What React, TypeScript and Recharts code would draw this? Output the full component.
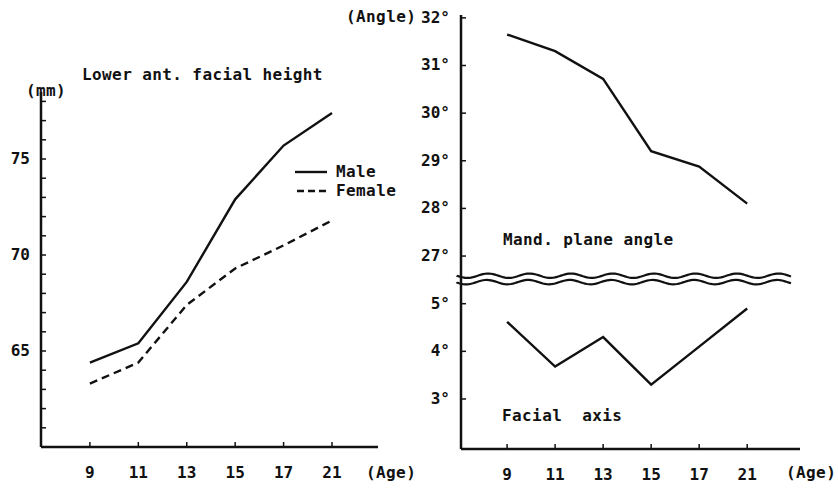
import { LineChart, Line, XAxis, YAxis, ReferenceLine } from 'recharts'

const ages = ['9', '11', '13', '15', '17', '21']
const maleHeight = [64.4, 65.4, 68.6, 72.9, 75.7, 77.4]
const femaleHeight = [63.3, 64.4, 67.4, 69.3, 70.5, 71.8]
const mandPlaneAngle = [31.65, 31.3, 30.72, 29.2, 28.88, 28.1]
const facialAxis = [4.62, 3.68, 4.3, 3.3, 4.1, 4.9]
const heightTicks = [60, 61, 62, 63, 64, 65, 66, 67, 68, 69, 70, 71, 72, 73, 74, 75, 76, 77, 78]
const heightLabels = [65, 70, 75]
const angleTicks = [3, 4, 5, 27, 28, 29, 30, 31, 32]

// the angle axis is broken: everything above the break is shifted down by this much
const BREAK_OFFSET = 21
const BREAK_AT = 5.52

const FONT = '"DejaVu Sans Mono", monospace'
const ink = '#111'

const heightData = ages.map((age, i) => ({ idx: i, age, male: maleHeight[i], female: femaleHeight[i] }))
const angleData = ages.map((age, i) => ({ idx: i, age, mand: mandPlaneAngle[i] - BREAK_OFFSET, facial: facialAxis[i] }))
const angleTickPos = angleTicks.map((t) => (t > 20 ? t - BREAK_OFFSET : t))

function YTick({ x, y, payload, labels }: any) {
  const v = payload.value
  const label = labels(v)
  return (
    <g>
      <line x1={x} x2={x + 5} y1={y} y2={y} stroke={ink} strokeWidth={1.5} />
      {label && (
        <text x={x - 11} y={y + 5} textAnchor="end" fontFamily={FONT} fontWeight="bold" fontSize={16} fill={ink}>
          {label}
        </text>
      )}
    </g>
  )
}

function XTick({ x, y, payload }: any) {
  return (
    <g>
      <line x1={x} x2={x} y1={y - 5} y2={y} stroke={ink} strokeWidth={1.5} />
      <text x={x} y={y + 31} textAnchor="middle" fontFamily={FONT} fontWeight="bold" fontSize={16} fill={ink}>
        {ages[payload.value]}
      </text>
    </g>
  )
}

function wave(x1: number, x2: number, y: number, phase: number) {
  let d = `M${x1},${y}`
  for (let x = x1; x <= x2; x += 2) {
    d += ` L${x},${(y + 2.2 * Math.sin((x - x1) / 6.6 + phase)).toFixed(2)}`
  }
  return d
}

function BreakMark(props: any) {
  const { x1, x2, y1 } = props
  return (
    <g>
      <path d={wave(x1 - 4, x2 - 9, y1 - 3.2, 0)} fill="none" stroke={ink} strokeWidth={2.2} />
      <path d={wave(x1 - 4, x2 - 9, y1 + 3.2, 0.2)} fill="none" stroke={ink} strokeWidth={2.2} />
    </g>
  )
}

const txt = (left: number, top: number, s: string, extra: any = {}) => (
  <div
    style={{
      position: 'absolute', left, top, fontFamily: FONT, fontWeight: 'bold', fontSize: 16,
      lineHeight: '18px', whiteSpace: 'pre', color: ink, letterSpacing: 0.4, ...extra,
    }}
  >
    {s}
  </div>
)

export default function App() {
  return (
    <div style={{ position: 'absolute', left: 0, top: 0, width: 838, height: 488, background: '#fff', overflow: 'hidden' }}>
      <div style={{ position: 'absolute', left: 0, top: 0 }}>
        <LineChart width={420} height={488} data={heightData} margin={{ top: 92, right: 42, bottom: 11, left: 1 }}>
          <XAxis
            dataKey="idx" type="number" domain={[-1.01, 5.95]} ticks={[0, 1, 2, 3, 4, 5]}
            height={30} tickSize={0} tickMargin={0} tick={<XTick />}
            axisLine={{ stroke: ink, strokeWidth: 2.5 }} tickLine={false} allowDataOverflow
          />
          <YAxis
            type="number" domain={[60, 78.49]} ticks={heightTicks} width={40} interval={0}
            tickSize={0} tickMargin={0} tickLine={false} allowDataOverflow
            tick={<YTick labels={(v: number) => (heightLabels.includes(v) ? String(v) : '')} />}
            axisLine={{ stroke: ink, strokeWidth: 2.5 }}
          />
          <Line dataKey="male" stroke={ink} strokeWidth={2.4} dot={false} isAnimationActive={false} />
          <Line dataKey="female" stroke={ink} strokeWidth={2.4} strokeDasharray="8 5" dot={false} isAnimationActive={false} />
        </LineChart>
      </div>
      <div style={{ position: 'absolute', left: 420, top: 0 }}>
        <LineChart width={418} height={488} data={angleData} margin={{ top: 15, right: 38, bottom: 9, left: 1 }}>
          <XAxis
            dataKey="idx" type="number" domain={[-0.96, 6.1]} ticks={[0, 1, 2, 3, 4, 5]}
            height={30} tickSize={0} tickMargin={0} tick={<XTick />}
            axisLine={{ stroke: ink, strokeWidth: 2.5 }} tickLine={false} allowDataOverflow
          />
          <YAxis
            type="number" domain={[1.95, 11.06]} ticks={angleTickPos} width={40} interval={0}
            tickSize={0} tickMargin={0} tickLine={false} allowDataOverflow
            tick={<YTick labels={(v: number) => `${v > 5.5 ? Math.round(v + BREAK_OFFSET) : v}°`} />}
            axisLine={{ stroke: ink, strokeWidth: 2.5 }}
          />
          <ReferenceLine y={BREAK_AT} stroke={ink} shape={BreakMark} />
          <Line dataKey="mand" stroke={ink} strokeWidth={2.4} dot={false} isAnimationActive={false} />
          <Line dataKey="facial" stroke={ink} strokeWidth={2.4} dot={false} isAnimationActive={false} />
        </LineChart>
      </div>

      {txt(82, 66, 'Lower ant. facial height')}
      {txt(26, 82, '(mm)')}
      <svg style={{ position: 'absolute', left: 290, top: 160 }} width={42} height={40}>
        <line x1={5} x2={37} y1={12} y2={12} stroke={ink} strokeWidth={2.4} />
        <line x1={7} x2={37} y1={31} y2={31} stroke={ink} strokeWidth={2.4} strokeDasharray="7 4" />
      </svg>
      {txt(336, 163, 'Male')}
      {txt(336, 182, 'Female')}
      {txt(366, 464, '(Age)')}
      {txt(786, 464, '(Age)')}
      {txt(346, 8, '(Angle)')}
      {txt(503, 231, 'Mand. plane angle')}
      {txt(502, 407, 'Facial  axis')}
    </div>
  )
}
